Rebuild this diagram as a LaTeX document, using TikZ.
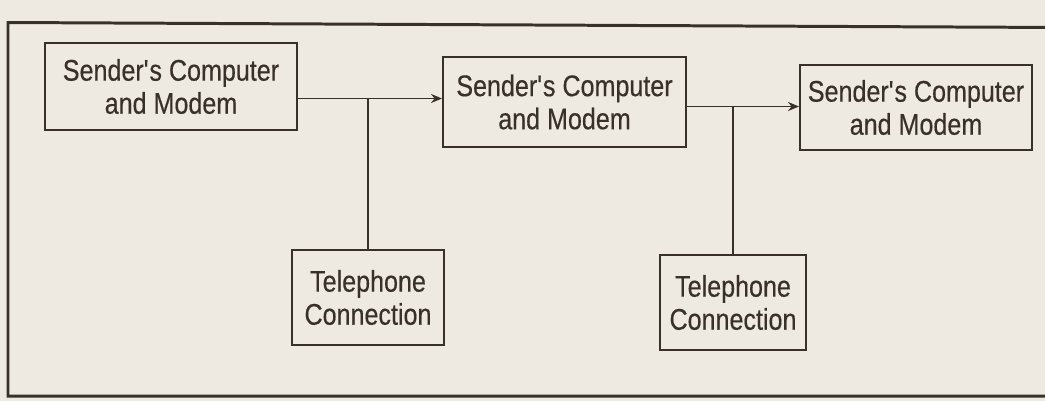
\documentclass[tikz,border=0pt]{standalone}
\usepackage{fontspec}
\setmainfont{Liberation Sans}[FakeStretch=0.84, FakeBold=0.4]
\usetikzlibrary{arrows.meta}
\definecolor{paper}{HTML}{EEEAE2}
\definecolor{ink}{HTML}{3A302A}
\begin{document}
\begin{tikzpicture}[
  unit/.style={draw=ink, line width=1.1pt, align=center, text=ink,
    font=\fontsize{17}{18.8}\selectfont, inner sep=2pt},
  arrow/.style={-{Stealth[length=2.2mm,width=1.8mm]}, line width=1.1pt, ink},
  wire/.style={line width=1.1pt, ink}
]
  \fill[paper] (0,0) rectangle (20.9,-8.02);
  \useasboundingbox (0,0) rectangle (20.9,-8.02);
  % outer frame
  \draw[ink, line width=1.7pt] (21.2,-0.55) -- (0.16,-0.45) -- (0.16,-7.92) -- (21.2,-7.92);

  \node[unit, minimum width=5.04cm, minimum height=1.74cm] (pc1) at (3.42,-1.73) {Sender\textquotesingle s Computer\\and Modem};
  \node[unit, minimum width=4.86cm, minimum height=1.80cm] (pc2) at (11.29,-2.04) {Sender\textquotesingle s Computer\\and Modem};
  \node[unit, minimum width=4.64cm, minimum height=1.70cm] (pc3) at (18.32,-2.15) {Sender\textquotesingle s Computer\\and Modem};
  \node[unit, minimum width=3.04cm, minimum height=1.90cm] (tel1) at (7.36,-5.95) {Telephone\\Connection};
  \node[unit, minimum width=2.92cm, minimum height=1.90cm] (tel2) at (14.66,-6.05) {Telephone\\Connection};

  \coordinate (j1) at (tel1.north |- 0,-1.97);
  \coordinate (j2) at (tel2.north |- 0,-2.13);

  \draw[arrow] (pc1.east |- j1) -- (pc2.west |- j1);
  \draw[wire] (j1) -- (tel1.north);
  \draw[arrow] (pc2.east |- j2) -- (pc3.west |- j2);
  \draw[wire] (j2) -- (tel2.north);
\end{tikzpicture}
\end{document}
